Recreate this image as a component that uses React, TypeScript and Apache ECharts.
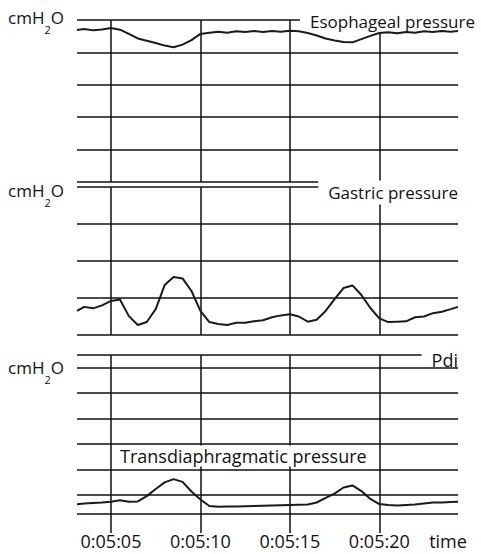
import React, { useEffect, useRef } from 'react';
import * as echarts from 'echarts';

// time in seconds (0:05:03.1 … 0:05:24.4)
const TIME = [
  303.1, 303.5, 304, 304.5, 305, 305.5, 306, 306.5, 307, 307.5, 308, 308.5, 309, 309.5,
  310, 310.5, 311, 311.5, 312, 312.5, 313, 313.5, 314, 314.5, 315, 315.5, 316, 316.5,
  317, 317.5, 318, 318.5, 319, 319.5, 320, 320.5, 321, 321.5, 322, 322.5, 323, 323.5,
  324, 324.4,
];
const ESOPHAGEAL = [
  46.9, 47.2, 46.8, 47.1, 47.5, 47.0, 45.7, 44.3, 43.6, 42.9, 42.1, 41.6, 42.4, 43.8,
  45.7, 46.1, 46.4, 46.1, 46.5, 46.3, 46.6, 46.3, 46.6, 46.4, 46.7, 46.5, 46.0, 45.2,
  44.3, 43.7, 43.2, 43.1, 44.1, 45.1, 46.0, 46.2, 45.9, 46.3, 46.1, 46.5, 46.3, 46.6,
  46.4, 46.6,
];
const GASTRIC = [
  6.5, 7.6, 7.2, 8.0, 9.2, 9.6, 5.1, 2.7, 3.5, 7.0, 13.5, 15.7, 15.3, 11.9,
  6.5, 3.5, 3.0, 2.7, 3.3, 3.3, 3.7, 4.0, 4.8, 5.3, 5.6, 5.0, 3.6, 4.1,
  6.5, 9.7, 12.7, 13.4, 10.8, 7.3, 4.5, 3.5, 3.6, 3.7, 4.8, 5.0, 5.9, 6.3,
  7.0, 7.6,
];
const PDI = [
  11.3, 11.6, 11.8, 12.0, 12.3, 12.9, 12.3, 12.4, 14.5, 17.3, 19.9, 21.2, 20.1, 16.3,
  13.2, 10.6, 10.3, 10.4, 10.4, 10.5, 10.6, 10.7, 10.8, 10.9, 11.0, 11.1, 11.2, 12.0,
  13.8, 15.5, 17.9, 18.7, 16.5, 13.4, 11.4, 11.0, 10.8, 11.0, 11.2, 11.6, 12.0, 12.0,
  12.2, 12.3,
];
const TIME_TICKS = [305, 310, 315, 320];
const PDI_LEVELS = [7.5, 15, 25, 35, 45, 55, 65, 70];
const PANEL_TITLES = ['Esophageal pressure', 'Gastric pressure', 'Pdi'];
const INNER_TITLE = 'Transdiaphragmatic pressure';
const UNIT = '{n|cmH}{s|2}{n|O}';
const X_NAME = 'time';

const FONT = '"Open Sans", "Noto Sans", sans-serif';
const INK = '#111';

function fmtTime(v: number): string {
  const m = Math.floor(v / 60);
  const s = Math.round(v - m * 60);
  return `0:${String(m).padStart(2, '0')}:${String(s).padStart(2, '0')}`;
}

export default function App() {
  const ref = useRef<HTMLDivElement>(null);
  useEffect(() => {
    if (!ref.current) return;
    const chart = echarts.init(ref.current, undefined, { renderer: 'svg' });
    const grids = [
      { left: 77, right: 23, top: 20, height: 162 },
      { left: 77, right: 23, top: 187, height: 148 },
      { left: 77, right: 23, top: 355, height: 178 },
    ];
    const lineStyle = { color: INK, width: 1.5 };
    const xAxes = grids.map((_, i) => ({
      type: 'value',
      gridIndex: i,
      min: 303.1,
      max: 324.4,
      splitNumber: 4,
      axisLine: { show: false },
      axisTick: { show: false },
      splitLine: { show: true, showMinLine: false, showMaxLine: false, lineStyle },
      axisLabel: {
        show: i === 2,
        showMinLabel: false,
        showMaxLabel: false,
        margin: 0,
        color: INK,
        fontFamily: FONT,
        fontSize: 18,
        lineHeight: 16,
        formatter: (v: number) => (TIME_TICKS.includes(Math.round(v * 10) / 10) ? fmtTime(v) : ''),
      },
    }));
    const yAxes = [
      { type: 'value', gridIndex: 0, min: 0, max: 50, interval: 10 },
      { type: 'value', gridIndex: 1, min: 0, max: 40, interval: 10 },
      { type: 'value', gridIndex: 2, min: 0, max: 70, interval: 10 },
    ].map((a, i) => ({
      ...a,
      axisLine: { show: false },
      axisTick: { show: false },
      axisLabel: { show: false },
      splitLine: { show: i !== 2, lineStyle },
    }));
    const traceStyle = { color: '#1a1a1a', width: 2 };
    const mk = (vals: number[], i: number, extra: any = {}) => ({
      type: 'line',
      xAxisIndex: i,
      yAxisIndex: i,
      data: TIME.map((t, k) => [t, vals[k]]),
      showSymbol: false,
      symbol: 'none',
      lineStyle: traceStyle,
      silent: true,
      ...extra,
    });
    const unitText = (y: number) => ({
      type: 'text',
      x: 8,
      y: y - 11,
      z: 10,
      style: {
        text: UNIT,
        verticalAlign: 'top',
        align: 'left',
        fill: INK,
        rich: {
          n: { fontSize: 17, fontFamily: FONT, lineHeight: 22, verticalAlign: 'top', fill: INK },
          s: { fontSize: 11, fontFamily: FONT, lineHeight: 11, padding: [15, 0, 0, 0], verticalAlign: 'top', fill: INK },
        },
      },
    });
    const label = (text: string, x: number, y: number, opts: any) => ({
      type: 'text',
      x,
      y,
      z: opts.z ?? 1,
      style: {
        text,
        align: opts.align ?? 'right',
        verticalAlign: 'middle',
        fill: INK,
        fontFamily: FONT,
        fontSize: opts.fontSize ?? 17,
        lineHeight: opts.lineHeight ?? 20,
        backgroundColor: '#fff',
        padding: opts.padding ?? [0, 0, 0, 10],
      },
    });
    chart.setOption({
      animation: false,
      backgroundColor: '#fff',
      grid: grids,
      xAxis: xAxes,
      yAxis: yAxes,
      series: [
        mk(ESOPHAGEAL, 0),
        mk(GASTRIC, 1),
        mk(PDI, 2, {
          markLine: {
            silent: true,
            symbol: 'none',
            label: { show: false },
            lineStyle: { color: INK, width: 1.5, type: 'solid' },
            data: PDI_LEVELS.map((v) => ({ yAxis: v })),
          },
        }),
      ],
      graphic: [
        unitText(19.7),
        unitText(193),
        unitText(369.5),
        label(PANEL_TITLES[0], 475, 21, { padding: [1, 0, 1, 10], lineHeight: 20 }),
        label(PANEL_TITLES[1], 458, 192.5, { padding: [2, 0, 2, 10], lineHeight: 20 }),
        label(PANEL_TITLES[2], 458, 359.5, { padding: [0, 0, 0, 10], lineHeight: 14, fontSize: 18, z: 10 }),
        label(INNER_TITLE, 115, 456, { align: 'left', padding: [0, 5, 0, 5], lineHeight: 21, fontSize: 18 }),
        {
          type: 'text',
          x: 448,
          y: 541,
          z: 10,
          style: { text: X_NAME, align: 'center', verticalAlign: 'middle', fill: INK, fontFamily: FONT, fontSize: 18, lineHeight: 16 },
        },
      ],
    });
    return () => chart.dispose();
  }, []);
  return (
    <div
      ref={ref}
      style={{ position: 'fixed', left: 0, top: 0, width: 481, height: 554, background: '#fff' }}
    />
  );
}
